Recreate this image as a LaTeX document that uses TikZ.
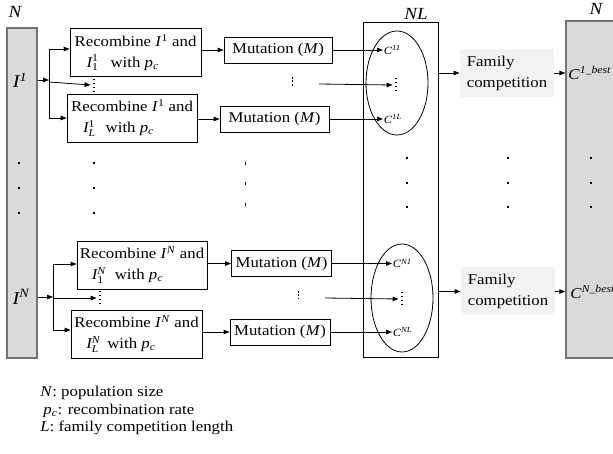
\documentclass[tikz,border=0pt]{standalone}
\usepackage{fontspec}
\usepackage{amsmath}
\setmainfont{Liberation Serif}[FakeStretch=1.12]
\usetikzlibrary{arrows.meta,shapes.geometric}

\newcommand{\boxfont}{\fontsize{15}{21}\selectfont}
\newcommand{\pc}{\textit{p}\textsubscript{\textit{c}}}

\tikzset{
    popbar/.style={draw=black!55, fill=black!15, line width=1.2pt, inner sep=0pt},
    recbox/.style={draw, align=left, font=\boxfont, inner sep=1pt, minimum height=48pt},
    mutbox/.style={draw, font=\boxfont, inner sep=1pt, minimum height=26pt},
    fambox/.style={fill=black!5, align=left, font=\boxfont, minimum width=94pt, minimum height=48pt},
    clab/.style={anchor=west, inner sep=0.5pt, font=\fontsize{11}{12}\selectfont},
    blab/.style={anchor=west, inner sep=0pt, font=\fontsize{15}{16}\selectfont},
    vdot/.style={line width=1.6pt, dash pattern=on 1.6pt off 2.4pt},
    dotmark/.style={fill=black}
}

\begin{document}
\begin{tikzpicture}[x=1pt, y=-1pt, line width=0.8pt, >={Triangle[length=6pt,width=4.5pt]}]
    \useasboundingbox (0,0) rectangle (613,454);
    \clip (0,0) rectangle (613,454);

    \begin{scope}[every node/.style={popbar}]
        \node[minimum width=30pt, minimum height=330pt] (popL) at (22,193) {};
        \node[minimum width=54pt, minimum height=337pt] (popR) at (593,189.5) {};
    \end{scope}
    \node[draw, line width=1pt, minimum width=75pt, minimum height=334pt] (nl) at (400.5,190) {};

    \begin{scope}[every node/.style={draw, ellipse, inner sep=0pt}]
        \node[minimum width=62pt, minimum height=104pt] (fam1) at (397,83) {};
        \node[minimum width=62pt, minimum height=108pt] (famN) at (402,298) {};
    \end{scope}

    \begin{scope}[every node/.style={font=\fontsize{17}{18}\selectfont\itshape, inner sep=0pt}]
        \node (nL) at (15,12) {N};
        \node (nR) at (596,9) {N};
        \node (nNL) at (416,14) {NL};
        \node[font=\fontsize{18}{18}\selectfont] (i1) at (20,80) {\textit{I\textsuperscript{1}}};
        \node[font=\fontsize{18}{18}\selectfont] (iN) at (21,297) {\textit{I\textsuperscript{N}}};
    \end{scope}

    \node[recbox, minimum width=131pt] (r11) at (135.5,52.5)
        {Recombine \textit{I}\textsuperscript{1} and\\\hspace*{12pt}$\textit{I}^{\text{1}}_{\text{1}}$\hspace{12pt}with \pc};
    \node[recbox, minimum width=130pt] (r1L) at (132,118)
        {Recombine \textit{I}\textsuperscript{1} and\\\hspace*{12pt}$\textit{I}^{\text{1}}_{\textit{L}}$\hspace{10pt}with \pc};
    \node[recbox, minimum width=130pt] (rN1) at (142,265)
        {Recombine \textit{I}\textsuperscript{\textit{N}} and\\\hspace*{12pt}$\textit{I}^{\textit{N}}_{\text{1}}$\hspace{9pt}with \pc};
    \node[recbox, minimum width=131pt] (rNL) at (136.5,334)
        {Recombine \textit{I}\textsuperscript{\textit{N}} and\\\hspace*{12pt}$\textit{I}^{\textit{N}}_{\textit{L}}$\hspace{7pt}with \pc};

    \node[mutbox, minimum width=108pt] (m11) at (278,50) {Mutation (\textit{M})};
    \node[mutbox, minimum width=109pt] (m1L) at (274.5,119) {Mutation (\textit{M})};
    \node[mutbox, minimum width=100pt] (mN1) at (281.5,263.5) {Mutation (\textit{M})};
    \node[mutbox, minimum width=100pt] (mNL) at (280,332) {Mutation (\textit{M})};

    \node[fambox] (fc1) at (507,73) {Family\\competition};
    \node[fambox] (fcN) at (508,291.5) {Family\\competition};

    \node[clab] (c11) at (383,50) {\textit{C}\textsuperscript{\textit{11}}};
    \node[clab] (c1L) at (383,119) {\textit{C}\textsuperscript{\textit{1L}}};
    \node[clab] (cN1) at (392,263.5) {\textit{C}\textsuperscript{\textit{N1}}};
    \node[clab] (cNL) at (392,332) {\textit{C}\textsuperscript{\textit{NL}}};
    \node[blab] (cb1) at (568,73) {\textit{C}\textsuperscript{\textit{1\_best}}};
    \node[blab] (cbN) at (570,292) {\textit{C}\textsuperscript{\textit{N\_best}}};

    \node[inner sep=0pt, minimum width=6pt, minimum height=12pt] (vd1) at (94,85) {};
    \node[inner sep=0pt, minimum width=6pt, minimum height=14pt] (vdN) at (100,298) {};
    \node[inner sep=0pt, minimum width=6pt, minimum height=14pt] (ev1) at (396,85) {};
    \node[inner sep=0pt, minimum width=6pt, minimum height=14pt] (evN) at (402,299) {};
    \draw[vdot] (vd1.north) -- (vd1.south);
    \draw[vdot] (vdN.north) -- (vdN.south);
    \draw[vdot, line width=1.3pt] (ev1.north) -- (ev1.south);
    \draw[vdot, line width=1.3pt] (evN.north) -- (evN.south);

    \coordinate (j1) at (49,80);
    \coordinate (jt1) at (49,49);
    \coordinate (jm1) at (49,82);
    \coordinate (jb1) at (49,118);
    \coordinate (jN) at (53,297);
    \coordinate (jtN) at (53,264);
    \coordinate (jmN) at (53,298);
    \coordinate (jbN) at (53,330);
    \coordinate (s1) at (319,84);
    \coordinate (sN) at (325,298);

    \begin{scope}[every edge/.style={draw, ->}]
        \path (popL.east |- j1) edge (j1);
        \path (jt1) edge (jt1 -| r11.west);
        \path (jm1) edge (vd1.west);
        \path (jb1) edge (jb1 -| r1L.west);
        \path (popL.east |- jN) edge (jN);
        \path (jtN) edge (jtN -| rN1.west);
        \path (jmN) edge (vdN.west);
        \path (jbN) edge (jbN -| rNL.west);

        \path (r11.east |- m11.west) edge (m11.west);
        \path (r1L.east |- m1L.west) edge (m1L.west);
        \path (rN1.east |- mN1.west) edge (mN1.west);
        \path (rNL.east |- mNL.west) edge (mNL.west);

        \path (m11.east) edge (c11.west);
        \path (m1L.east) edge (c1L.west);
        \path (mN1.east) edge (cN1.west);
        \path (mNL.east) edge (cNL.west);
        \path (s1) edge (ev1.west);
        \path (sN) edge (evN.west);

        \path (nl.east |- fc1.west) edge (fc1.west);
        \path (nl.east |- fcN.west) edge (fcN.west);
        \path (fc1.east) edge (fc1.east -| popR.west);
        \path (fcN.east) edge (fcN.east -| popR.west);
    \end{scope}
    \draw (jt1) -- (jb1);
    \draw (jtN) -- (jbN);

    \foreach \x in {19,94} {
        \foreach \y in {163,188,213} {
            \fill[dotmark] (\x-1,\y-1) rectangle +(2,2);
        }
    }
    \foreach \x in {407,508,591} {
        \foreach \y in {158,183,207} {
            \fill[dotmark] (\x-1,\y-1) rectangle +(2,2);
        }
    }
    \foreach \y in {164,184,205} {
        \fill[dotmark] (244.6,\y-1.5) rectangle +(0.8,3);
    }
    \draw[line width=0.7pt, dash pattern=on 2pt off 1.5pt] (292,77) -- (292,86);
    \draw[line width=0.7pt, dash pattern=on 2pt off 1.5pt] (298,291) -- (298,299);

    \begin{scope}[every node/.style={anchor=west, inner sep=0pt, font=\fontsize{15}{16}\selectfont}]
        \node (leg1) at (40,393) {\textit{N}: population size};
        \node (leg2) at (43,411) {\pc: recombination rate};
        \node (leg3) at (40,428) {\textit{L}: family competition length};
    \end{scope}
\end{tikzpicture}
\end{document}
